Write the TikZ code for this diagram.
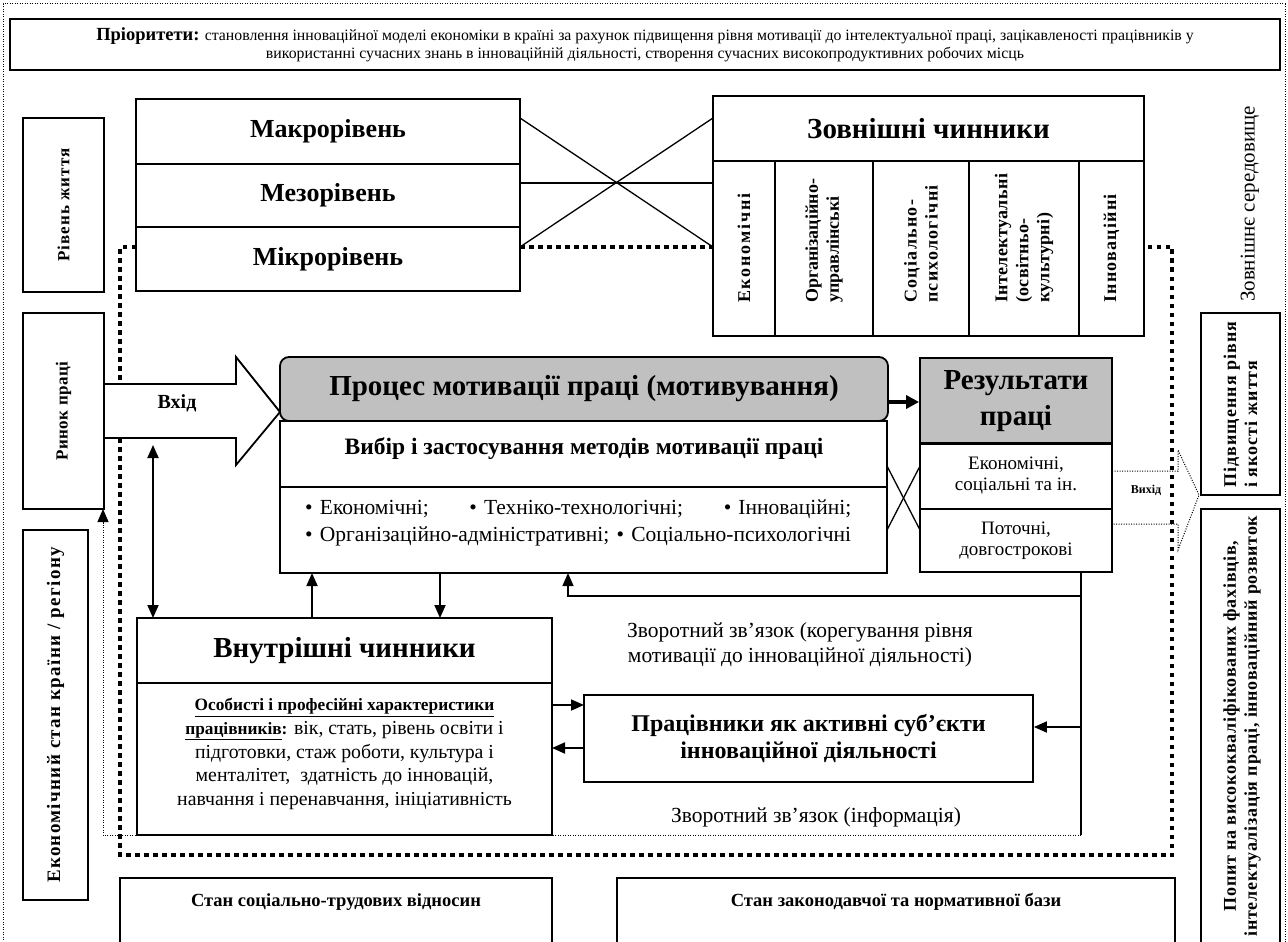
\documentclass[tikz,border=0pt]{standalone}
\usepackage{fontspec}
\setmainfont{Liberation Serif}
\usetikzlibrary{arrows.meta}
\definecolor{boxgray}{RGB}{192,192,192}
\newcommand{\fz}[2]{\fontsize{#1}{#2}\selectfont}
\newcommand{\lsp}[1]{\addfontfeatures{LetterSpace=#1}}
\tikzset{
  box/.style={draw, line width=1.8pt, inner sep=0pt, align=center},
  graybox/.style={box, fill=boxgray},
  thinln/.style={line width=1.3pt},
  arr/.style={line width=1.8pt, -{Triangle[length=13pt,width=11pt]}},
  darr/.style={line width=1.8pt, {Triangle[length=13pt,width=11pt]}-{Triangle[length=13pt,width=11pt]}},
  bigdot/.style={line width=4.5pt, dash pattern=on 4.5pt off 4.5pt},
  smalldot/.style={line width=1pt, dash pattern=on 1pt off 1.5pt},
  lbl/.style={inner sep=0pt, align=center},
  vlbl/.style={inner sep=0pt, rotate=90, anchor=west, align=left},
}
\begin{document}
\begin{tikzpicture}[x=1pt,y=-1pt]
\useasboundingbox (0,0) rectangle (1288,942);
\fill[white] (0,0) rectangle (1288,942);

% outer thin dotted frame
\coordinate (fbl) at (3,960);
\coordinate (ftl) at (3,4);
\coordinate (ftr) at (1285,4);
\coordinate (fbr) at (1285,960);
\draw[smalldot] (fbl) -- (ftl) -- (ftr) -- (fbr);

% thick dotted loop
\coordinate (d0) at (136,247);
\coordinate (d1) at (120,247);
\coordinate (d2) at (120,855);
\coordinate (d3) at (1172,855);
\coordinate (d4) at (1172,247);
\coordinate (d5) at (1144,247);
\coordinate (m0) at (520,247);
\coordinate (m1) at (713,247);
\draw[bigdot] (d0) -- (d1) -- (d2) -- (d3) -- (d4) -- (d5);
\draw[bigdot] (m0) -- (m1);

% priorities
\node[box, minimum width=1270pt, minimum height=51pt, font={\fz{15.8}{18}}] (prio) at (645,44.5)
 {{\bfseries\fz{18.5}{18}Пріоритети:} становлення інноваційної моделі економіки в країні за рахунок підвищення рівня мотивації до інтелектуальної праці, зацікавленості працівників у\\
 використанні сучасних знань в інноваційній діяльності, створення сучасних високопродуктивних робочих місць};

% input arrow (white, over dotted line)
\coordinate (a1) at (104,384);
\coordinate (a2) at (236,384);
\coordinate (a3) at (236,357);
\coordinate (a4) at (280,412);
\coordinate (a5) at (236,465);
\coordinate (a6) at (236,438);
\coordinate (a7) at (104,438);
\path[fill=white, draw, line width=1.8pt] (a1) -- (a2) -- (a3) -- (a4) -- (a5) -- (a6) -- (a7);
\node[lbl, font={\fz{20}{22}\bfseries}] (vhid) at (177,403) {Вхід};

% left column
\node[box, rotate=90, minimum width=174pt, minimum height=81pt, font={\fz{17}{20}\bfseries\lsp{6}}] (zhyt) at (63.5,205) {Рівень життя};
\node[box, rotate=90, minimum width=196pt, minimum height=81pt, font={\fz{17}{20}\bfseries\lsp{3}}] (rynok) at (63.5,411) {Ринок праці};
\node[box, rotate=90, minimum width=370pt, minimum height=65pt, font={\fz{19}{22}\bfseries\lsp{7}}] (econ) at (55.5,715) {Економічний стан країни / регіону};

% levels
\node[box, minimum width=384pt, minimum height=65pt, font={\fz{26}{30}\bfseries}] (makro) at (328,131.5) {Макрорівень};
\node[box, minimum width=384pt, minimum height=63pt, font={\fz{26}{30}\bfseries}] (mezo) at (328,195.5) {Мезорівень};
\node[box, minimum width=384pt, minimum height=64pt, font={\fz{26}{30}\bfseries}] (mikro) at (328,259) {Мікрорівень};

% external factors
\node[box, minimum width=431pt, minimum height=65pt, font={\fz{29}{32}\bfseries}] (ext) at (928.5,128.5) {Зовнішні чинники};
\node[box, minimum width=62pt, minimum height=175pt] (c1) at (744,248.5) {};
\node[box, minimum width=98pt, minimum height=175pt] (c2) at (824,248.5) {};
\node[box, minimum width=96pt, minimum height=175pt] (c3) at (921,248.5) {};
\node[box, minimum width=110pt, minimum height=175pt] (c4) at (1024,248.5) {};
\node[box, minimum width=65pt, minimum height=175pt] (c5) at (1111.5,248.5) {};
\node[vlbl, font={\fz{18}{21}\bfseries\lsp{10}}] (c1t) at (744,303) {Економічні};
\node[vlbl, font={\fz{18}{21}\bfseries}] (c2t) at (824,303) {Організаційно-\\управлінські};
\node[vlbl, font={\fz{18}{21}\bfseries\lsp{7}}] (c3t) at (921,303) {Соціально-\\психологічні};
\node[vlbl, font={\fz{18}{21}\bfseries\lsp{2}}] (c4t) at (1024,303) {Інтелектуальні\\(освітньо-\\культурні)};
\node[vlbl, font={\fz{18}{21}\bfseries\lsp{7}}] (c5t) at (1111.5,303) {Інноваційні};

% cross lines between levels and external
\coordinate (x1) at (520,118);
\coordinate (x2) at (713,247);
\coordinate (x3) at (520,247);
\coordinate (x4) at (713,118);
\coordinate (x5) at (520,183);
\coordinate (x6) at (713,183);
\draw[thinln] (x1) -- (x2);
\draw[thinln] (x3) -- (x4);
\draw[thinln] (x5) -- (x6);

\node[lbl, rotate=90, font={\fz{21}{24}}] (zs) at (1250,204) {Зовнішнє середовище};

% process
\node[graybox, rounded corners=9pt, minimum width=608pt, minimum height=64pt, font={\fz{29}{32}\bfseries}] (proc) at (584,389) {Процес мотивації праці (мотивування)};
\node[box, minimum width=607pt, minimum height=66pt] (vybir) at (583.5,454) {};
\node[lbl, font={\fz{23.5}{26}\bfseries}] (vybirt) at (584,449) {Вибір і застосування методів мотивації праці};
\node[box, minimum width=607pt, minimum height=86pt] (meth) at (583.5,530) {};
\node[lbl, anchor=west, text width=546pt, align=left, font={\fz{21.5}{27}}] (methl) at (305,523)
 {• Економічні;\hfill• Техніко-технологічні;\hfill• Інноваційні;\\• Організаційно-адміністративні; • Соціально-психологічні};

% results
\node[graybox, minimum width=192pt, minimum height=86pt, font={\fz{29}{36}\bfseries}] (resh) at (1016,401) {Результати\\праці};
\node[box, minimum width=192pt, minimum height=66pt, font={\fz{19}{21}}] (res1) at (1016,476) {Економічні,\\соціальні та ін.};
\node[box, minimum width=192pt, minimum height=63pt, font={\fz{19}{21}}] (res2) at (1016,540.5) {Поточні,\\довгострокові};

\draw[line width=4pt, -{Triangle[length=13pt,width=13pt]}] (proc.east |- 0,402) -- (resh.west |- 0,402);

% cross between methods and results
\coordinate (y1) at (887,466);
\coordinate (y2) at (920,530);
\coordinate (y3) at (887,530);
\coordinate (y4) at (920,466);
\draw[thinln] (y1) -- (y2);
\draw[thinln] (y3) -- (y4);

% output dotted arrow
\coordinate (o1) at (1112,471);
\coordinate (o2) at (1178,471);
\coordinate (o3) at (1178,450);
\coordinate (o4) at (1199,495);
\coordinate (o5) at (1178,550);
\coordinate (o6) at (1178,524);
\coordinate (o7) at (1112,524);
\draw[smalldot] (o1) -- (o2) -- (o3) -- (o4) -- (o5) -- (o6) -- (o7);
\node[lbl, font={\fz{12}{14}\bfseries}] (vyhid) at (1146,490) {Вихід};

% right column
\node[box, minimum width=79pt, minimum height=182pt] (pidv) at (1240.5,404) {};
\node[vlbl, font={\fz{18}{21}\bfseries\lsp{6}}] (pidvt) at (1240.5,488) {Підвищення рівня\\і якості життя};
\node[box, minimum width=79pt, minimum height=438pt] (popyt) at (1240.5,728) {};
\node[lbl, rotate=90, font={\fz{18}{21}\bfseries\lsp{4}}] (popytt) at (1242,726) {Попит на висококваліфікованих фахівців,\\інтелектуалізація праці, інноваційний розвиток};

% internal factors
\node[box, minimum width=415pt, minimum height=65pt, font={\fz{29}{32}\bfseries}] (inth) at (344.5,650.5) {Внутрішні чинники};
\node[box, minimum width=415pt, minimum height=152pt] (intb) at (344.5,759) {};
\node[lbl, font={\fz{19.8}{23.7}}] (intt) at (344.5,754) {{\bfseries\fz{17.3}{23.7}\underline{Особисті і професійні характеристики}}\\
 {\bfseries\fz{17.3}{23.7}\underline{працівників}:} вік, стать, рівень освіти і\\
 підготовки, стаж роботи, культура і\\
 менталітет,\ \ здатність до інновацій,\\
 навчання і перенавчання, ініціативність};

% workers
\node[box, minimum width=449pt, minimum height=87pt, font={\fz{24}{27}\bfseries}] (work) at (808.5,738.5) {Працівники як активні суб’єкти\\інноваційної діяльності};

\node[lbl, font={\fz{21.5}{25}}] (fb1) at (800,645) {Зворотний зв’язок (корегування рівня\\мотивації до інноваційної діяльності)};
\node[lbl, font={\fz{21.5}{24}}] (fb2) at (816,817) {Зворотний зв’язок (інформація)};

% bottom boxes
\node[box, minimum width=432pt, minimum height=144pt] (soc) at (336,950) {};
\node[lbl, font={\fz{18.5}{21}\bfseries}] (soct) at (336,902) {Стан соціально-трудових відносин};
\node[box, minimum width=558pt, minimum height=144pt] (leg) at (896,950) {};
\node[lbl, font={\fz{18.5}{21}\bfseries}] (legt) at (896,902) {Стан законодавчої та нормативної бази};

% arrows
\draw[arr] (312,618) -- (312,573);
\draw[arr] (440,573) -- (440,618);
\draw[darr] (153,445) -- (153,618);
\draw[arr] (552,705) -- (584,705);
\draw[arr] (584,748) -- (552,748);

% feedback loop
\coordinate (f0) at (1081,572);
\coordinate (f1) at (1081,596);
\coordinate (f2) at (568,596);
\coordinate (f3) at (1081,835);
\coordinate (f4) at (1081,727);
\coordinate (f5) at (103,835);
\coordinate (f6) at (103,509);
\draw[line width=1.3pt] (f0) -- (f3);
\draw[arr, line width=1.3pt] (f1) -- (f2) -- (568,573);
\draw[arr] (f4) -- (work.east |- f4);
\draw[smalldot] (f3) -- (f5) -- (103,524);
\draw[-{Triangle[length=13pt,width=11pt]}, line width=1pt] (103,524) -- (f6);
\end{tikzpicture}
\end{document}
